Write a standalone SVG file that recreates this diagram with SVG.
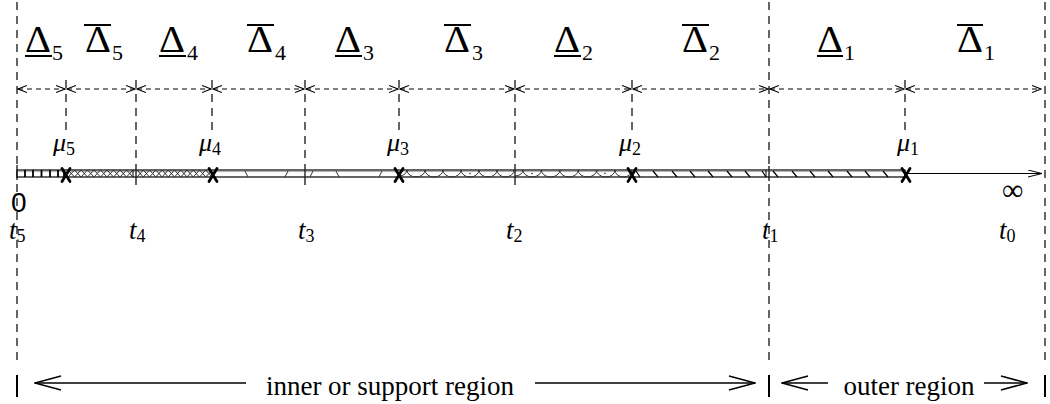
<svg xmlns="http://www.w3.org/2000/svg" width="1050" height="404" viewBox="0 0 1050 404">
<style>
.serif{font-family:"Liberation Serif","Times New Roman",serif;fill:#000}
.delta{font-family:"Liberation Serif","Times New Roman",serif;font-size:37px;fill:#000}
.sub{font-family:"Liberation Serif",serif;font-size:22px;fill:#000}
.mu{font-family:"Liberation Serif",serif;font-style:italic;font-size:26px}
.musub{font-family:"Liberation Serif",serif;font-size:18px}
.t{font-family:"Liberation Serif",serif;font-style:italic;font-size:27px}
.tsub{font-family:"Liberation Serif",serif;font-size:18px}
.bar{stroke:#000;stroke-width:2}
.vdash{stroke:#000;stroke-width:1.2;stroke-dasharray:8 6;fill:none}
.hdash{stroke:#000;stroke-width:1.1;stroke-dasharray:5 4;fill:none;marker-start:url(#sa);marker-end:url(#sa)}
.tick{stroke:#222;stroke-width:1.4}
.band{fill:#fff;stroke:#000;stroke-width:1.2}
.pat{stroke:#333;stroke-width:1;fill:none}
.xm{stroke:#000;stroke-width:2.8;stroke-linecap:round}
.big{stroke:#000;stroke-width:1.6;fill:none}
</style>
<defs>
<marker id="sa" viewBox="0 0 10 8" refX="9" refY="4" markerWidth="10" markerHeight="8" markerUnits="userSpaceOnUse" orient="auto-start-reverse">
<path d="M0,0.5 L9,4 L0,7.5" fill="none" stroke="#000" stroke-width="1.1"/>
</marker>
<marker id="ba" viewBox="0 0 28 16" refX="27" refY="8" markerWidth="28" markerHeight="16" markerUnits="userSpaceOnUse" orient="auto-start-reverse">
<path d="M1,1 L27,8 L1,15" fill="none" stroke="#000" stroke-width="1.6"/>
</marker>
<marker id="ax" viewBox="0 0 16 8" refX="15" refY="4" markerWidth="16" markerHeight="8" markerUnits="userSpaceOnUse" orient="auto">
<path d="M1,0.5 L15,4 L1,7.5" fill="none" stroke="#000" stroke-width="1"/>
</marker>
</defs>
<rect width="1050" height="404" fill="#fff"/>

<g id="guides">
<line class="vdash" x1="17" y1="2" x2="17" y2="362"/>
<line class="vdash" x1="769" y1="2" x2="769" y2="362"/>
<line class="vdash" x1="1045" y1="2" x2="1045" y2="362"/>
<line class="vdash" x1="66" y1="80" x2="66" y2="130"/>
<line class="vdash" x1="136" y1="80" x2="136" y2="165"/>
<line class="vdash" x1="212" y1="80" x2="212" y2="130"/>
<line class="vdash" x1="305" y1="80" x2="305" y2="165"/>
<line class="vdash" x1="399" y1="80" x2="399" y2="130"/>
<line class="vdash" x1="515" y1="80" x2="515" y2="165"/>
<line class="vdash" x1="632" y1="80" x2="632" y2="130"/>
<line class="vdash" x1="905" y1="80" x2="905" y2="130"/>
</g>

<g id="labels-delta">
<text class="delta" x="25" y="52" textLength="26" lengthAdjust="spacingAndGlyphs">Δ</text><text class="sub" x="52" y="60">5</text><line class="bar" x1="25" y1="56" x2="52" y2="56"/>
<text class="delta" x="85" y="52" textLength="26" lengthAdjust="spacingAndGlyphs">Δ</text><text class="sub" x="112" y="60">5</text><line class="bar" x1="84" y1="25" x2="111" y2="25"/>
<text class="delta" x="159" y="52" textLength="26" lengthAdjust="spacingAndGlyphs">Δ</text><text class="sub" x="187" y="60">4</text><line class="bar" x1="159" y1="56" x2="186" y2="56"/>
<text class="delta" x="247" y="52" textLength="26" lengthAdjust="spacingAndGlyphs">Δ</text><text class="sub" x="275" y="60">4</text><line class="bar" x1="247" y1="25" x2="274" y2="25"/>
<text class="delta" x="335" y="52" textLength="26" lengthAdjust="spacingAndGlyphs">Δ</text><text class="sub" x="363" y="60">3</text><line class="bar" x1="335" y1="56" x2="362" y2="56"/>
<text class="delta" x="444" y="52" textLength="26" lengthAdjust="spacingAndGlyphs">Δ</text><text class="sub" x="472" y="60">3</text><line class="bar" x1="444" y1="25" x2="471" y2="25"/>
<text class="delta" x="554" y="52" textLength="26" lengthAdjust="spacingAndGlyphs">Δ</text><text class="sub" x="582" y="60">2</text><line class="bar" x1="554" y1="56" x2="581" y2="56"/>
<text class="delta" x="682" y="52" textLength="26" lengthAdjust="spacingAndGlyphs">Δ</text><text class="sub" x="709" y="60">2</text><line class="bar" x1="682" y1="25" x2="709" y2="25"/>
<text class="delta" x="817" y="52" textLength="26" lengthAdjust="spacingAndGlyphs">Δ</text><text class="sub" x="844" y="60">1</text><line class="bar" x1="817" y1="56" x2="843" y2="56"/>
<text class="delta" x="957" y="52" textLength="26" lengthAdjust="spacingAndGlyphs">Δ</text><text class="sub" x="984" y="60">1</text><line class="bar" x1="957" y1="25" x2="983" y2="25"/>
</g>

<g id="connectors">
<line class="hdash" x1="18" y1="89" x2="65" y2="89"/>
<line class="hdash" x1="67" y1="89" x2="135" y2="89"/>
<line class="hdash" x1="137" y1="89" x2="211" y2="89"/>
<line class="hdash" x1="213" y1="89" x2="304" y2="89"/>
<line class="hdash" x1="306" y1="89" x2="398" y2="89"/>
<line class="hdash" x1="400" y1="89" x2="514" y2="89"/>
<line class="hdash" x1="516" y1="89" x2="631" y2="89"/>
<line class="hdash" x1="633" y1="89" x2="768" y2="89"/>
<line class="hdash" x1="770" y1="89" x2="904" y2="89"/>
<line class="hdash" x1="906" y1="89" x2="1041" y2="89"/>
<line class="big" x1="35" y1="383" x2="246" y2="383" style="marker-start:url(#ba)"/>
<line class="big" x1="535" y1="383" x2="755" y2="383" style="marker-end:url(#ba)"/>
<line class="big" x1="782" y1="383" x2="828" y2="383" style="marker-start:url(#ba)"/>
<line class="big" x1="984" y1="383" x2="1027" y2="383" style="marker-end:url(#ba)"/>
<line class="bar" x1="17" y1="375" x2="17" y2="397"/>
<line class="bar" x1="769" y1="375" x2="769" y2="397"/>
<line class="bar" x1="1045" y1="375" x2="1045" y2="397"/>
</g>

<g id="axis">
<line x1="905" y1="173.5" x2="1042" y2="173.5" stroke="#000" stroke-width="1" marker-end="url(#ax)"/>
<rect class="band" x="17" y="170" width="888" height="7"/>
<line x1="18" y1="171.6" x2="904" y2="171.6" stroke="#999" stroke-width="0.8"/>
<path d="M25,170V177M33,170V177M41.5,170V177M50,170V177M58,170V177M64,170V177" stroke="#000" stroke-width="1.8"/>
<path class="pat" d="M68,170L74.5,177L81,170L87.5,177L94,170L100.5,177L107,170L113.5,177L120,170L126.5,177L133,170M68,177L74.5,170L81,177L87.5,170L94,177L100.5,170L107,177L113.5,170L120,177L126.5,170L133,177"/>
<path class="pat" d="M137,170L143.25,177L149.5,170L155.75,177L162,170L168.25,177L174.5,170L180.75,177L187,170L193.25,177L199.5,170L205.75,177L212,170M137,177L143.25,170L149.5,177L155.75,170L162,177L168.25,170L174.5,177L180.75,170L187,177L193.25,170L199.5,177L205.75,170L212,177"/>
<line x1="133" y1="170" x2="133" y2="177" stroke="#000" stroke-width="1"/>
<path class="pat" d="M245,171L248,177M288,171L285,177M313,171L310,177M336,171L339,177M382,171L379,177"/>
<path class="pat" d="M399,176a8 6 0 0 0 8,-6a9 7 0 0 0 18,0a9 7 0 0 0 18,0a9 7 0 0 0 18,0a9 7 0 0 0 18,0a9 7 0 0 0 18,0a8.5 7 0 0 0 17,0"/>
<path class="pat" d="M515,176a8 6 0 0 0 8,-6a9.2 7 0 0 0 18.4,0a9.2 7 0 0 0 18.4,0a9.2 7 0 0 0 18.4,0a9.2 7 0 0 0 18.4,0a9.2 7 0 0 0 18.4,0a8.5 7 0 0 0 17,0"/>
<circle cx="470" cy="173.5" r="0.7" fill="#000"/>
<circle cx="532" cy="173.5" r="0.7" fill="#000"/>
<circle cx="605" cy="173.5" r="0.7" fill="#000"/>
<path d="M636,171L640,177M653,171L658,177M672,171L677,177M690,171L695,177M708,171L713,177M727,171L732,177M745,171L750,177M762,171L766,177M773,171L778,177M792,171L797,177M810,171L815,177M828,171L833,177M847,171L852,177M865,171L870,177M883,171L888,177" stroke="#000" stroke-width="1.2"/>
<line x1="766" y1="170" x2="766" y2="177" stroke="#000" stroke-width="1"/>
<line class="tick" x1="17" y1="165" x2="17" y2="180"/>
<line class="tick" x1="136" y1="165" x2="136" y2="185"/>
<line class="tick" x1="305" y1="165" x2="305" y2="185"/>
<line class="tick" x1="515" y1="165" x2="515" y2="185"/>
<line class="tick" x1="769" y1="166" x2="769" y2="181"/>
<path class="xm" d="M62,168.5L70,181.5M70,168.5L62,181.5"/>
<path class="xm" d="M209,168.5L217,181.5M217,168.5L209,181.5"/>
<path class="xm" d="M395,168.5L403,181.5M403,168.5L395,181.5"/>
<path class="xm" d="M628,168.5L636,181.5M636,168.5L628,181.5"/>
<path class="xm" d="M902,168.5L910,181.5M910,168.5L902,181.5"/>
</g>

<g id="labels-mu">
<text x="53" y="151"><tspan class="mu">μ</tspan><tspan class="musub" dy="4">5</tspan></text>
<text x="199" y="151"><tspan class="mu">μ</tspan><tspan class="musub" dy="4">4</tspan></text>
<text x="387" y="151"><tspan class="mu">μ</tspan><tspan class="musub" dy="4">3</tspan></text>
<text x="619" y="151"><tspan class="mu">μ</tspan><tspan class="musub" dy="4">2</tspan></text>
<text x="897" y="151"><tspan class="mu">μ</tspan><tspan class="musub" dy="4">1</tspan></text>
</g>

<g id="labels-t">
<text x="11" y="212" style="font-family:'Liberation Sans',Arial,sans-serif;font-size:28px">0</text>
<text x="1002" y="200" class="serif" style="font-size:30px">∞</text>
<text x="9" y="239"><tspan class="t">t</tspan><tspan class="tsub" dy="3">5</tspan></text>
<text x="129" y="239"><tspan class="t">t</tspan><tspan class="tsub" dy="3">4</tspan></text>
<text x="298" y="239"><tspan class="t">t</tspan><tspan class="tsub" dy="3">3</tspan></text>
<text x="506" y="239"><tspan class="t">t</tspan><tspan class="tsub" dy="3">2</tspan></text>
<text x="762" y="239"><tspan class="t">t</tspan><tspan class="tsub" dy="3">1</tspan></text>
<text x="999" y="239"><tspan class="t">t</tspan><tspan class="tsub" dy="3">0</tspan></text>
</g>

<g id="region-labels">
<text class="serif" x="390" y="395" text-anchor="middle" style="font-size:27px">inner or support region</text>
<text class="serif" x="909" y="395" text-anchor="middle" style="font-size:27px">outer region</text>
</g>
</svg>
